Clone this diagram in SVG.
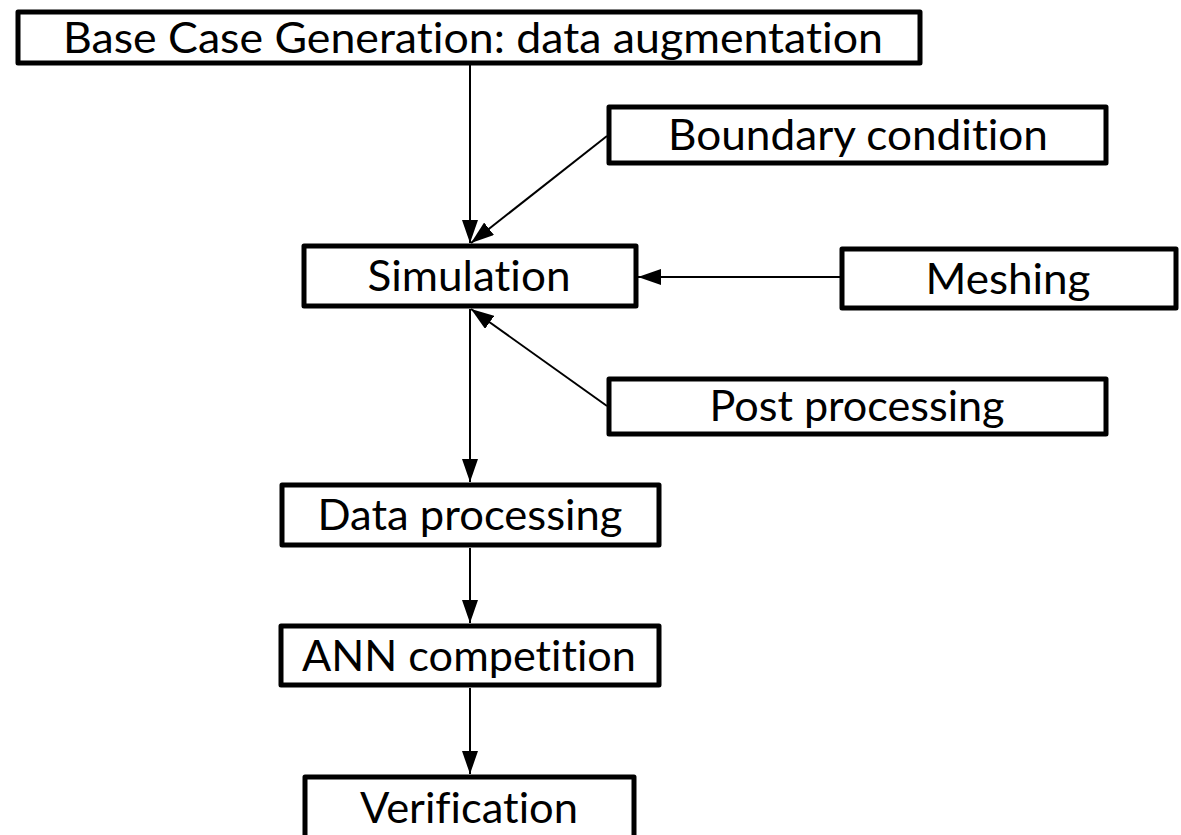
<svg xmlns="http://www.w3.org/2000/svg" width="1181" height="835" viewBox="0 0 1181 835">
  <style>
    .box { fill: #ffffff; stroke: #000000; stroke-width: 5; stroke-linejoin: round; }
    .lbl { font-family: Lato, "Liberation Sans", Arial, sans-serif; font-size: 42px; fill: #000000; text-anchor: middle; font-variant-ligatures: none; font-feature-settings: "liga" 0, "dlig" 0, "clig" 0; }
    .edge { stroke: #000000; stroke-width: 2; fill: none; marker-end: url(#arrow); }
  </style>
  <defs>
    <marker id="arrow" markerUnits="userSpaceOnUse" markerWidth="23" markerHeight="16" refX="23" refY="8" orient="auto">
      <path d="M0,0 L23,8 L0,16 Z" fill="#000000"/>
    </marker>
  </defs>
  <rect width="1181" height="835" fill="#ffffff"/>

  <g id="connectors">
    <line class="edge" x1="470" y1="65" x2="470" y2="243"/>
    <line class="edge" x1="607" y1="136" x2="471" y2="243"/>
    <line class="edge" x1="840" y1="277" x2="638" y2="277"/>
    <line class="edge" x1="607" y1="406" x2="471" y2="309"/>
    <line class="edge" x1="470" y1="309" x2="470" y2="482"/>
    <line class="edge" x1="470" y1="548" x2="470" y2="623"/>
    <line class="edge" x1="470" y1="688" x2="470" y2="774"/>
  </g>

  <g id="node-base">
    <rect class="box" x="18" y="12" width="902" height="51"/>
    <text class="lbl" x="473" y="53" textLength="820" lengthAdjust="spacingAndGlyphs">Base Case Generation: data augmentation</text>
  </g>
  <g id="node-boundary">
    <rect class="box" x="609" y="107" width="497" height="56"/>
    <text class="lbl" x="858" y="150" textLength="380" lengthAdjust="spacingAndGlyphs">Boundary condition</text>
  </g>
  <g id="node-simulation">
    <rect class="box" x="304" y="246" width="332" height="60"/>
    <text class="lbl" x="469" y="291" textLength="203" lengthAdjust="spacingAndGlyphs">Simulation</text>
  </g>
  <g id="node-meshing">
    <rect class="box" x="842" y="249" width="334" height="59"/>
    <text class="lbl" x="1008" y="294" textLength="165" lengthAdjust="spacingAndGlyphs">Meshing</text>
  </g>
  <g id="node-post">
    <rect class="box" x="609" y="379" width="497" height="55"/>
    <text class="lbl" x="857" y="421" textLength="295" lengthAdjust="spacingAndGlyphs">Post processing</text>
  </g>
  <g id="node-data">
    <rect class="box" x="282" y="485" width="377" height="60"/>
    <text class="lbl" x="470" y="530" textLength="305" lengthAdjust="spacingAndGlyphs">Data processing</text>
  </g>
  <g id="node-ann">
    <rect class="box" x="281" y="626" width="378" height="59"/>
    <text class="lbl" x="469" y="671" textLength="334" lengthAdjust="spacingAndGlyphs">ANN competition</text>
  </g>
  <g id="node-verification">
    <rect class="box" x="305" y="777" width="329" height="64"/>
    <text class="lbl" x="469" y="823" textLength="218" lengthAdjust="spacingAndGlyphs">Verification</text>
  </g>
</svg>
